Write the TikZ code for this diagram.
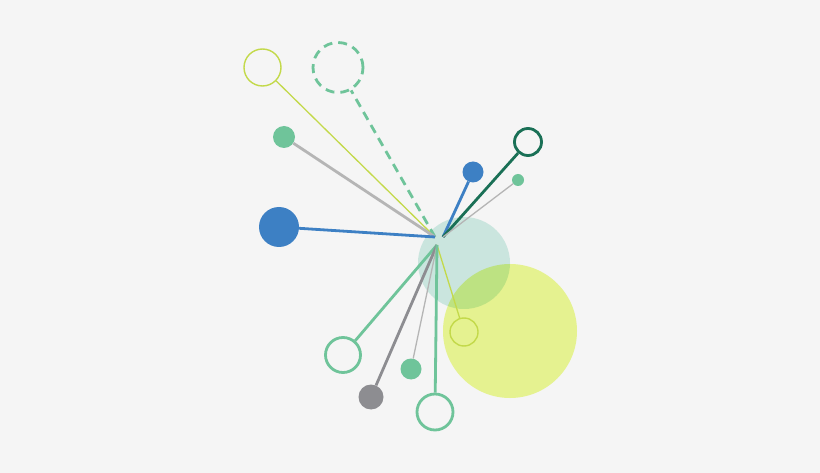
\documentclass[tikz,border=0pt]{standalone}
\usepackage{tikz}
\usetikzlibrary{calc}
\definecolor{paper}{HTML}{F5F5F5}
\definecolor{leaf}{HTML}{6FC49A}
\definecolor{lime}{HTML}{C3D94A}
\definecolor{ocean}{HTML}{3D80C4}
\definecolor{pine}{HTML}{1A7056}
\definecolor{ash}{HTML}{B5B5B5}
\definecolor{slate}{HTML}{8D8D91}
\definecolor{mist}{HTML}{D3EFE8}
\definecolor{sun}{HTML}{EFFC96}
\newcommand{\dotnode}[5]{\node[shape=circle,draw=none,fill=#4,inner sep=0pt,minimum size=#5] (#1) at ( #2 , #3 ) {};}
\newcommand{\ringnode}[6]{\node[shape=circle,draw=#4,line width=#6,fill=none,inner sep=0pt,minimum size=#5] (#1) at ( #2 , #3 ) {};}
\newcommand{\blob}[4]{\fill[#4] ( #1 , #2 ) circle ( #3 );}

\begin{document}
\begin{tikzpicture}[x=1pt,y=-1pt]
        \fill[paper] (0,0) rectangle (820,473);
        \useasboundingbox (0,0) rectangle (820,473);
        % big circles
        \begin{scope}[blend mode=multiply]
        \blob{464}{263}{46}{mist}
        \blob{510}{331}{67}{sun}
        \end{scope}
        % hubs
        \coordinate (hubL) at (435,237);
        \coordinate (hubR) at (443,237);
        \coordinate (hubD) at (437,245);
        % ends up left
        \ringnode{limering}{262.5}{67.5}{lime}{37pt}{1.4pt}
        \ringnode{dashring}{338}{67.5}{leaf}{50pt}{2.8pt,dash pattern=on 9pt off 6pt}
        \dotnode{leafdot}{284}{137}{leaf}{22pt}
        \dotnode{bigblue}{279}{227}{ocean}{40pt}
        % ends up right
        \dotnode{smallblue}{473}{172}{ocean}{21pt}
        \ringnode{pinering}{528}{142}{pine}{27pt}{2.8pt}
        \dotnode{tinyleaf}{518}{180}{leaf}{12pt}
        % ends down
        \ringnode{limesmall}{464}{332}{lime}{28pt}{1.4pt}
        \ringnode{leafring}{343}{355}{leaf}{35pt}{2.8pt}
        \dotnode{slatedot}{371}{397}{slate}{25pt}
        \dotnode{leafdot2}{411}{369}{leaf}{21pt}
        \ringnode{bottomring}{435}{412}{leaf}{36pt}{2.8pt}
        % spokes up left
        \draw[lime, line width=1.3pt] (hubL) -- (limering);
        \draw[leaf, line width=2.8pt, dash pattern=on 9pt off 6pt] (hubL) -- (dashring);
        \draw[ash, line width=2.8pt] (hubL) -- (leafdot);
        \draw[ocean, line width=2.8pt] (hubL) -- (bigblue);
        % spokes up right
        \draw[ocean, line width=2.8pt] (hubR) -- (smallblue);
        \draw[pine, line width=2.8pt] (hubR) -- (pinering);
        \draw[ash, line width=1.3pt] (hubR) -- (tinyleaf);
        % spokes down
        \draw[lime, line width=1.3pt] (hubD) -- (limesmall);
        \draw[leaf, line width=2.8pt] (hubD) -- (leafring);
        \draw[slate, line width=2.8pt] (hubD) -- (slatedot);
        \draw[ash, line width=1.3pt] (hubD) -- (leafdot2);
        \draw[leaf, line width=2.8pt] (hubD) -- (bottomring);
    \end{tikzpicture}
\end{document}
